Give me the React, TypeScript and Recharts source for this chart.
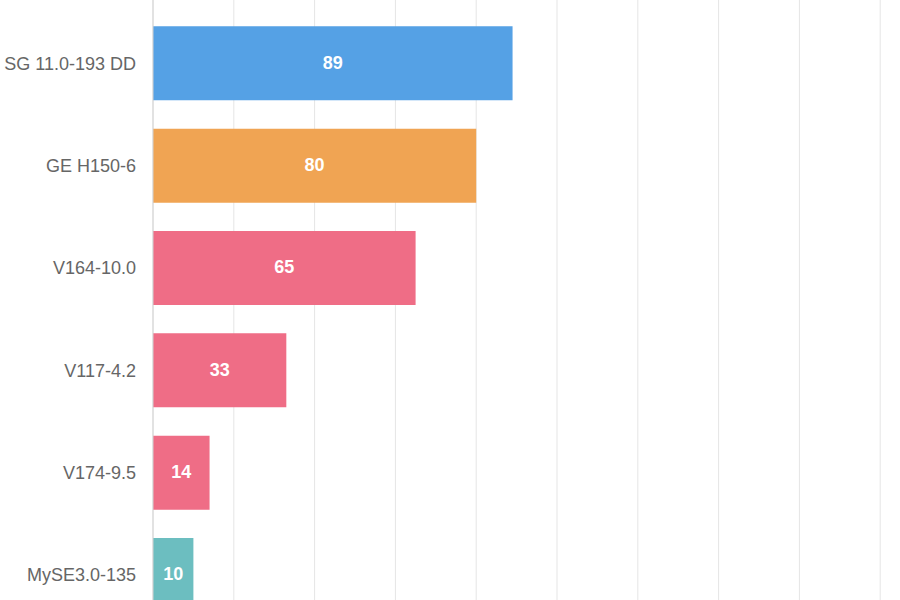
import React from "react";
import { BarChart, Bar, XAxis, YAxis, CartesianGrid, Cell, LabelList } from "recharts";

const turbines = ["SG 11.0-193 DD", "GE H150-6", "V164-10.0", "V117-4.2", "V174-9.5", "MySE3.0-135"];
const counts = [89, 80, 65, 33, 14, 10];
const barColors = ["#55A1E5", "#F0A453", "#EF6D86", "#EF6D86", "#EF6D86", "#6CBEC0"];
const xTicks = [0, 20, 40, 60, 80, 100, 120, 140, 160, 180, 200];

const data = turbines.map((name, i) => ({ name, value: counts[i], color: barColors[i] }));

const FONT = '"Liberation Sans", Arial, Helvetica, sans-serif';

export default function App() {
  return (
    <div
      style={{
        position: "fixed",
        left: 0,
        top: 0,
        width: 900,
        height: 600,
        overflow: "hidden",
        background: "#fff",
      }}
    >
      <BarChart
        layout="vertical"
        width={980}
        height={626}
        data={data}
        margin={{ top: 0, right: 19, left: 0, bottom: 0 }}
        barCategoryGap="14%"
      >
        <CartesianGrid horizontal={false} stroke="#e5e5e5" strokeWidth={1} />
        <XAxis type="number" domain={[0, 200]} ticks={xTicks} hide />
        <YAxis
          type="category"
          dataKey="name"
          width={153}
          padding={{ top: 12, bottom: 0 }}
          axisLine={{ stroke: "#d2d2d2", strokeWidth: 1 }}
          tickLine={false}
          tickSize={0}
          tickMargin={17}
          tick={{ fill: "#666666", fontSize: 18, fontFamily: FONT }}
          interval={0}
        />
        <Bar dataKey="value" isAnimationActive={false}>
          {data.map((d, i) => (
            <Cell key={i} fill={d.color} />
          ))}
          <LabelList
            dataKey="value"
            position="center"
            fill="#ffffff"
            dy={-1}
            style={{ fontSize: 18, fontWeight: "bold", fontFamily: FONT }}
          />
        </Bar>
      </BarChart>
    </div>
  );
}
